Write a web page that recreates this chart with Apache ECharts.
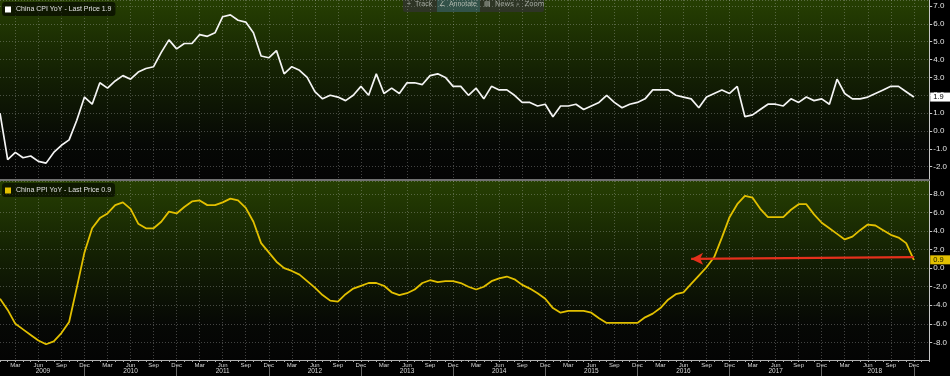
<!DOCTYPE html>
<html><head><meta charset="utf-8">
<script src="https://cdn.jsdelivr.net/npm/echarts@6/dist/echarts.min.js"></script>
<style>html,body{margin:0;padding:0;background:#000;overflow:hidden}#c{width:950px;height:376px;}</style>
</head><body><div id="c"></div>
<script>
// ---------- data ----------
const monthNames = ['Jan','Feb','Mar','Apr','May','Jun','Jul','Aug','Sep','Oct','Nov','Dec'];
const years = [2009,2010,2011,2012,2013,2014,2015,2016,2017,2018];
const tickMonths = ['Mar','Jun','Sep','Dec'];
const padCategories = ['Jan 2019','Feb 2019'];
const cpiName = 'China CPI YoY';
const ppiName = 'China PPI YoY';
const cpi = [
 1.0,-1.6,-1.2,-1.5,-1.4,-1.7,-1.8,-1.2,-0.8,-0.5,0.6,1.9,
 1.5,2.7,2.4,2.8,3.1,2.9,3.3,3.5,3.6,4.4,5.1,4.6,
 4.9,4.9,5.4,5.3,5.5,6.4,6.5,6.2,6.1,5.5,4.2,4.1,
 4.5,3.2,3.6,3.4,3.0,2.2,1.8,2.0,1.9,1.7,2.0,2.5,
 2.0,3.2,2.1,2.4,2.1,2.7,2.7,2.6,3.1,3.2,3.0,2.5,
 2.5,2.0,2.4,1.8,2.5,2.3,2.3,2.0,1.6,1.6,1.4,1.5,
 0.8,1.4,1.4,1.5,1.2,1.4,1.6,2.0,1.6,1.3,1.5,1.6,
 1.8,2.3,2.3,2.3,2.0,1.9,1.8,1.3,1.9,2.1,2.3,2.1,
 2.5,0.8,0.9,1.2,1.5,1.5,1.4,1.8,1.6,1.9,1.7,1.8,
 1.5,2.9,2.1,1.8,1.8,1.9,2.1,2.3,2.5,2.5,2.2,1.9
];
const ppi = [
 -3.3,-4.5,-6.0,-6.6,-7.2,-7.8,-8.2,-7.9,-7.0,-5.8,-2.1,1.7,
 4.3,5.4,5.9,6.8,7.1,6.4,4.8,4.3,4.3,5.0,6.1,5.9,
 6.6,7.2,7.3,6.8,6.8,7.1,7.5,7.3,6.5,5.0,2.7,1.7,
 0.7,0.0,-0.3,-0.7,-1.4,-2.1,-2.9,-3.5,-3.6,-2.8,-2.2,-1.9,
 -1.6,-1.6,-1.9,-2.6,-2.9,-2.7,-2.3,-1.6,-1.3,-1.5,-1.4,-1.4,
 -1.6,-2.0,-2.3,-2.0,-1.4,-1.1,-0.9,-1.2,-1.8,-2.2,-2.7,-3.3,
 -4.3,-4.8,-4.6,-4.6,-4.6,-4.8,-5.4,-5.9,-5.9,-5.9,-5.9,-5.9,
 -5.3,-4.9,-4.3,-3.4,-2.8,-2.6,-1.7,-0.8,0.1,1.2,3.3,5.5,
 6.9,7.8,7.6,6.4,5.5,5.5,5.5,6.3,6.9,6.9,5.8,4.9,
 4.3,3.7,3.1,3.4,4.1,4.7,4.6,4.1,3.6,3.3,2.7,0.9
];
const arrowStart = ['Dec 2018', 1.2];
const arrowEnd = ['Jul 2016', 1.0];

// ---------- build ----------
const categories = years.flatMap(y => monthNames.map(m => m + ' ' + y)).concat(padCategories);
const mon = v => v.split(' ')[0];
const yr = v => +v.split(' ')[1];
const isQuarter = (i, v) => i < cpi.length && tickMonths.includes(mon(v));
const isDec = (i, v) => i < cpi.length && mon(v) === 'Dec';
const isJun = (i, v) => i < cpi.length && mon(v) === 'Jun';
const lastCpi = cpi[cpi.length - 1];
const lastPpi = ppi[ppi.length - 1];

const FONT = 'Liberation Sans, Arial, sans-serif';
const gridLine = { show: true, lineStyle: { color: 'rgba(200,200,200,0.32)', type: [1, 2], width: 1 } };
const bg = {
  type: 'linear', x: 0, y: 0, x2: 0, y2: 1,
  colorStops: [
    { offset: 0, color: '#263f02' },
    { offset: 0.4, color: '#142103' },
    { offset: 0.8, color: '#060805' },
    { offset: 1, color: '#040404' }
  ]
};
const yLabel = { color: '#e4e4e4', fontSize: 8, margin: 4, fontFamily: FONT, formatter: v => v.toFixed(1) };
const yCommon = {
  type: 'value', position: 'right', splitNumber: 10,
  axisLine: { show: true, onZero: false, lineStyle: { color: '#c8c8c8', width: 1 } },
  axisTick: { show: true, length: 3, lineStyle: { color: '#c8c8c8' } },
  axisLabel: Object.assign({ showMinLabel: false, showMaxLabel: false }, yLabel),
  splitLine: gridLine
};
const legendCommon = {
  left: 2, orient: 'horizontal', icon: 'rect', itemWidth: 6, itemHeight: 6,
  backgroundColor: 'rgba(0,0,0,0.6)', borderRadius: 3, padding: [4, 4, 3, 3],
  textStyle: { color: '#e0e0e0', fontSize: 7, fontFamily: FONT },
  selectedMode: false
};
const lastLabel = (val, bgc, fg) => ({
  yAxis: val,
  lineStyle: { color: 'rgba(0,0,0,0)', width: 0 },
  label: { show: true, position: 'end', distance: 1, formatter: val.toFixed(1),
    backgroundColor: bgc, color: fg, fontSize: 7.5, fontFamily: FONT, padding: [1, 8, 0, 3] }
});

const option = {
  animation: false,
  backgroundColor: '#000',
  textStyle: { fontFamily: FONT },
  legend: [
    Object.assign({ top: 2, data: [cpiName], formatter: n => n + ' - Last Price ' + lastCpi.toFixed(1) }, legendCommon),
    Object.assign({ top: 183, data: [ppiName], formatter: n => n + ' - Last Price ' + lastPpi.toFixed(1) }, legendCommon)
  ],
  grid: [
    { left: -1, right: 20, top: 0, height: 180, show: true, backgroundColor: bg, borderWidth: 0 },
    { left: -1, right: 20, top: 181, height: 179, show: true, backgroundColor: bg, borderWidth: 0 }
  ],
  xAxis: [
    { gridIndex: 0, type: 'category', data: categories, boundaryGap: false, position: 'bottom',
      axisLine: { show: true, onZero: false, lineStyle: { color: '#707070', width: 2 } },
      axisTick: { show: false }, axisLabel: { show: false },
      splitLine: Object.assign({ interval: isQuarter }, gridLine) },
    { gridIndex: 1, type: 'category', data: categories, boundaryGap: false, position: 'bottom',
      axisLine: { show: true, onZero: false, lineStyle: { color: '#b0b0b0', width: 1 } },
      axisTick: { show: true, interval: 0, length: 2, lineStyle: { color: '#b0b0b0' } },
      axisLabel: { show: true, interval: isQuarter, formatter: mon, color: '#d8d8d8', fontSize: 6, margin: 2, fontFamily: FONT },
      splitLine: Object.assign({ interval: isQuarter }, gridLine) },
    { gridIndex: 1, type: 'category', data: categories, boundaryGap: false, position: 'bottom', offset: 7,
      axisLine: { show: false, onZero: false },
      axisTick: { show: true, interval: isDec, length: 10, lineStyle: { color: '#666' } },
      axisLabel: { show: true, interval: isJun, margin: 1, color: '#d8d8d8', fontSize: 6.5, fontFamily: FONT,
        formatter: v => { const y = yr(v); return y === years[0] ? '{l|' + y + '}' : (y === years[years.length - 1] ? '{r|' + y + '}' : '{n|' + y + '}'); },
        rich: { l: { padding: [0, 0, 0, 9] }, r: { padding: [0, 0, 0, 14] }, n: {} } },
      splitLine: { show: false } }
  ],
  yAxis: [
    Object.assign({ gridIndex: 0, min: -2.745, max: 7.336 }, yCommon),
    Object.assign({ gridIndex: 1, min: -9.9, max: 9.4 }, yCommon)
  ],
  series: [
    { name: cpiName, type: 'line', xAxisIndex: 0, yAxisIndex: 0, data: cpi, showSymbol: false,
      lineStyle: { color: '#f4f4f4', width: 1.7 }, itemStyle: { color: '#ffffff' },
      markLine: { silent: true, symbol: 'none', animation: false, data: [lastLabel(lastCpi, '#ffffff', '#000000')] } },
    { name: ppiName, type: 'line', xAxisIndex: 1, yAxisIndex: 1, data: ppi, showSymbol: false,
      lineStyle: { color: '#e2c000', width: 1.8 }, itemStyle: { color: '#e2c000' },
      markLine: { silent: true, symbol: 'none', animation: false, data: [
        lastLabel(lastPpi, '#e2c000', '#1a1a00'),
        [ { coord: arrowStart, symbol: 'none', lineStyle: { color: '#e4301c', width: 2.2, type: 'solid' }, label: { show: false } },
          { coord: arrowEnd, symbol: 'arrow', symbolSize: [9, 12] } ]
      ] } }
  ],
  graphic: [
    { type: 'rect', shape: { x: 403, y: -3, width: 141, height: 15, r: 2 }, style: { fill: 'rgba(48,52,44,0.85)' } },
    { type: 'rect', shape: { x: 437, y: 0, width: 43, height: 12 }, style: { fill: 'rgba(52,92,86,0.75)' } },
    { type: 'text', x: 407, y: 1, style: { text: '+  Track', fill: '#a6aba2', fontSize: 7, fontFamily: FONT } },
    { type: 'text', x: 439, y: 1, style: { text: '∠  Annotate', fill: '#b0b8ae', fontSize: 7, fontFamily: FONT } },
    { type: 'text', x: 484, y: 1, style: { text: '▤  News', fill: '#a6aba2', fontSize: 7, fontFamily: 'DejaVu Sans, ' + FONT } },
    { type: 'text', x: 516, y: 1, style: { text: '⌕  Zoom', fill: '#a6aba2', fontSize: 7, fontFamily: 'DejaVu Sans, ' + FONT } }
  ]
};
const chart = echarts.init(document.getElementById('c'), null, { renderer: 'canvas' });
chart.setOption(option);
</script>
</body></html>
